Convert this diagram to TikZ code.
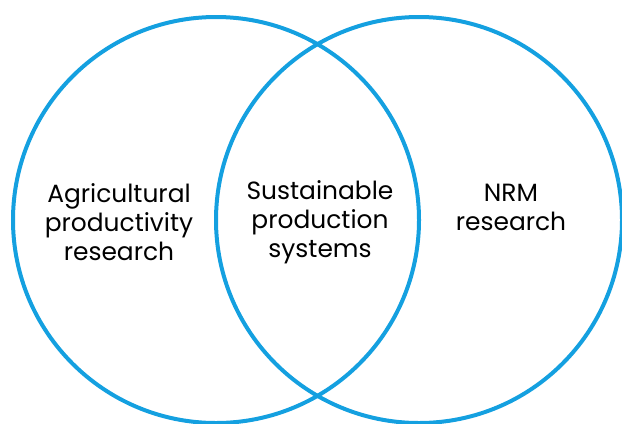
\documentclass[tikz,border=0pt]{standalone}
\usepackage{fontspec}
\setmainfont{Poppins}
\definecolor{vennblue}{RGB}{20,160,224}
\begin{document}
\begin{tikzpicture}[x=1bp,y=-1bp,
  ring/.style={circle,draw=vennblue,line width=4bp,inner sep=0,
    minimum size=406bp},
  areatext/.style={align=center,text=black,inner sep=0,
    font=\fontsize{25}{29}\selectfont}]
  \useasboundingbox (0,0) rectangle (622,423);
  \node[ring] (agri) at (216,220) {};
  \node[ring] (nrm) at (419,220) {};
  \node[areatext] (left) at (119,222) {Agricultural\\productivity\\research};
  \node[areatext] (mid) at (320,222) {Sustainable\\production\\systems};
  \node[areatext] (right) at (511,207) {NRM\\research};
\end{tikzpicture}
\end{document}
